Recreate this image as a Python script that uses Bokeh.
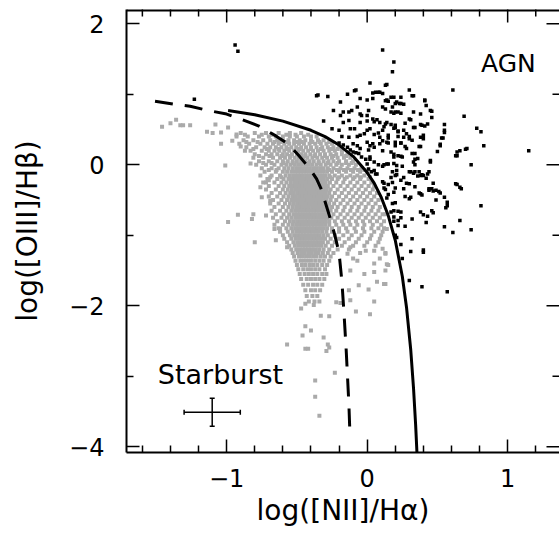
import math
from bokeh.plotting import figure
from bokeh.models import Range1d, FixedTicker, Label, Whisker, ColumnDataSource, TeeHead
from bokeh.embed import file_html
from bokeh.resources import INLINE

# ---------------- data ----------------
x_major = [-1, 0, 1]
x_minor = [-1.6, -1.4, -1.2, -0.8, -0.6, -0.4, -0.2, 0.2, 0.4, 0.6, 0.8, 1.2]
y_major = [-4, -2, 0, 2]
y_minor = [-3, -1, 1]
x_tick_text = {-1: "\u22121", 0: "0", 1: "1"}
y_tick_text = {-4: "\u22124", -2: "\u22122", 0: "0", 2: "2"}

# solid demarcation
solid_x = [-0.99, -0.8, -0.6, -0.4, -0.3, -0.2, -0.1, 0.0, 0.05, 0.1, 0.15, 0.2, 0.25, 0.28, 0.31, 0.33, 0.345, 0.355]
solid_y = [0.77, 0.71, 0.62, 0.49, 0.40, 0.28, 0.12, -0.11, -0.26, -0.46, -0.72, -1.07, -1.58, -2.02, -2.62, -3.17, -3.69, -4.11]

# dashed demarcation
dash_x = [-1.51, -1.38, -1.26, -1.13, -1.0, -0.89, -0.77, -0.65, -0.56, -0.49, -0.44, -0.40, -0.36, -0.33,
          -0.30, -0.26, -0.23, -0.20, -0.18, -0.165, -0.15, -0.14, -0.13, -0.122]
dash_y = [0.90, 0.86, 0.83, 0.77, 0.72, 0.64, 0.55, 0.41, 0.29, 0.14, 0.02, -0.08, -0.20, -0.33,
          -0.52, -0.78, -1.00, -1.25, -1.65, -2.1, -2.6, -3.0, -3.4, -3.85]

# AGN-like objects (black)
agn_pts = [
    (-0.94, 1.70), (-0.92, 1.61), (-1.23, 0.93),
    (0.11, 1.63), (0.19, 1.46), (0.18, 1.32), (0.14, 1.14), (0.61, 1.06), (0.09, 1.03), (0.30, 1.06), (0.33, 0.98),
    (0.14, 0.92), (0.15, 0.90), (0.19, 0.96), (0.21, 0.89), (0.24, 0.87), (0.26, 0.86), (0.41, 0.92), (0.42, 0.84),
    (0.45, 0.77), (0.69, 0.69), (0.11, 0.82), (0.13, 0.79), (0.18, 0.82), (0.19, 0.73), (0.22, 0.75), (0.33, 0.75),
    (0.38, 0.72), (0.46, 0.67), (0.30, 0.65), (0.14, 0.60), (0.17, 0.57), (0.20, 0.56), (0.27, 0.59), (0.38, 0.57),
    (0.41, 0.55), (0.55, 0.57), (0.78, 0.52), (0.81, 0.47), (0.11, 0.49), (0.12, 0.54), (0.19, 0.52), (0.22, 0.47),
    (0.28, 0.44), (0.33, 0.53), (0.55, 0.46), (0.09, 0.39), (0.15, 0.42), (0.26, 0.39), (0.30, 0.37), (0.38, 0.39),
    (0.40, 0.42), (0.53, 0.38), (0.83, 0.27), (0.09, 0.30), (0.14, 0.32), (0.20, 0.27), (0.24, 0.31), (0.28, 0.23),
    (0.38, 0.26), (0.52, 0.29), (0.71, 0.23), (0.64, 0.18), (1.15, 0.20), (0.11, 0.20), (0.19, 0.15), (0.22, 0.13),
    (0.25, 0.11), (0.34, 0.16), (0.36, 0.09), (0.45, 0.04), (0.64, 0.13), (0.74, 0.00), (0.12, 0.00), (0.15, 0.01),
    (0.19, 0.02), (0.21, -0.01), (0.33, 0.04), (0.34, 0.00), (0.30, -0.10), (0.33, -0.12), (0.38, -0.15), (0.43, -0.13),
    (0.20, -0.15), (0.17, -0.18), (0.24, -0.22), (0.28, -0.26), (0.47, -0.26), (0.63, -0.27), (0.66, -0.32),
    (0.12, -0.26), (0.15, -0.28), (0.44, -0.36), (0.47, -0.37), (0.51, -0.38), (0.55, -0.46), (0.26, -0.34),
    (0.31, -0.46), (0.38, -0.41), (0.19, -0.39), (0.21, -0.14), (0.26, -0.18), (0.36, -0.16), (0.39, -0.14),
    (0.42, -0.19), (0.44, -0.10), (0.11, -0.24), (0.18, -0.25), (0.20, -0.33), (0.30, -0.27), (0.34, -0.31),
    (0.64, -0.28), (0.67, -0.34), (0.44, -0.34), (0.46, -0.34), (0.49, -0.36), (0.52, -0.40), (0.12, -0.33),
    (0.13, -0.35), (0.15, -0.42), (0.14, -0.47), (0.27, -0.45), (0.30, -0.48), (0.37, -0.40), (0.39, -0.43),
    (0.49, -0.50), (0.57, -0.53), (0.57, -0.58), (0.56, -0.61), (0.81, -0.58), (0.18, -0.55), (0.20, -0.54),
    (0.19, -0.65), (0.22, -0.66), (0.24, -0.67), (0.17, -0.67), (0.38, -0.67), (0.40, -0.71), (0.43, -0.73),
    (0.46, -0.65), (0.47, -0.68), (0.19, -0.74), (0.19, -0.80), (0.22, -0.79), (0.24, -0.75), (0.32, -0.77),
    (0.42, -0.82), (0.66, -0.79), (0.74, -0.92), (0.22, -0.86), (0.27, -0.87), (0.55, -0.88), (0.61, -0.96),
    (0.20, -1.00), (0.21, -1.03), (0.32, -1.05), (0.24, -1.13), (0.31, -1.23), (0.40, -1.21), (0.40, -1.24),
    (0.25, -1.33), (0.30, -1.64), (0.39, -1.73), (0.57, -1.80),
    (0.02, 1.16), (0.04, 1.02), (0.06, 1.03), (0.08, 1.03), (0.11, 1.01), (-0.05, 0.94), (0.00, 0.92), (0.04, 0.94),
    (0.13, 0.91), (0.17, 0.96), (0.24, 0.96), (0.32, 0.98), (0.23, 0.87), (0.20, 0.87), (-0.05, 0.72), (0.01, 0.77),
    (0.00, 0.70), (0.17, 0.75), (0.20, 0.75), (0.24, 0.73), (0.04, 0.65), (0.05, 0.61), (0.07, 0.64), (-0.05, 0.60),
    (0.00, 0.62), (0.09, 0.60), (0.13, 0.58), (0.31, 0.64), (0.39, 0.56), (0.43, 0.58), (0.20, 0.53), (0.22, 0.48),
    (0.00, 0.49), (0.02, 0.51), (0.26, 0.49), (0.34, 0.53), (0.55, 0.49), (-0.05, 0.42), (-0.02, 0.44), (0.05, 0.43),
    (0.08, 0.45), (0.15, 0.38), (0.22, 0.40), (0.30, 0.40), (0.32, 0.35), (0.40, 0.37), (0.00, 0.32), (0.02, 0.27),
    (0.04, 0.30), (0.11, 0.34), (0.15, 0.31), (0.20, 0.32), (0.24, 0.31), (0.27, 0.26), (0.52, 0.27), (0.63, 0.13),
    (0.50, 0.19), (0.37, 0.26), (-0.05, 0.23), (0.01, 0.21), (0.05, 0.25), (0.17, 0.18), (0.32, 0.16), (0.34, 0.08),
    (0.45, 0.06), (0.19, 0.11), (0.24, 0.12), (-0.01, 0.08), (0.02, 0.11), (0.08, 0.00), (0.11, -0.02), (0.14, 0.01),
    (0.25, -0.02), (0.31, -0.10), (0.34, -0.10), (0.37, -0.10), (0.40, -0.15), (0.18, -0.10), (0.21, -0.08),
    (0.05, -0.08), (0.06, -0.13), (-0.35, 0.99), (-0.28, 0.97), (-0.19, 0.89), (-0.14, 1.00), (-0.08, 1.06),
    (-0.31, 0.62), (-0.24, 0.77), (-0.19, 0.70), (-0.25, 0.51), (-0.20, 0.49), (-0.17, 0.75), (-0.13, 0.75),
    (-0.11, 0.77), (-0.17, 0.60), (-0.13, 0.63), (-0.07, 0.82), (-0.04, 0.70), (-0.12, 0.51), (-0.09, 0.51),
    (-0.18, 0.40), (-0.13, 0.39), (-0.07, 0.40), (-0.20, 0.31), (-0.17, 0.28), (-0.14, 0.25), (-0.10, 0.30),
    (-0.07, 0.27), (-0.12, 0.21), (-0.10, 0.18), (-0.08, 0.17), (-0.06, 0.16), (-0.04, 0.11), (0.02, 0.08),
    (0.05, 0.04), (0.00, 0.01), (0.01, -0.06), (0.03, -0.10), (0.07, -0.13), (0.70, 0.22), (0.66, 0.20),
    (0.54, 0.38), (0.41, 0.91), (0.46, 0.76), (0.13, 1.13), (-0.09, 1.05), (-0.36, 0.98),
]

# star-forming objects (grey): rows of (y, [x ...]) read across the cloud
sf_rows = [
    (0.45, [-0.90, -0.80, -0.72, -0.63, -0.55, -0.47]),
    (0.425, [-0.87, -0.75, -0.68, -0.575, -0.51, -0.42]),
    (0.40, [-0.93, -0.85, -0.77, -0.70, -0.65, -0.60, -0.55, -0.50, -0.45, -0.40, -0.36]),
    (0.35, [-0.88, -0.81, -0.74, -0.69, -0.64, -0.60, -0.56, -0.52, -0.48, -0.44, -0.40, -0.35, -0.31]),
    (0.325, [-0.86, -0.78, -0.66, -0.615, -0.57, -0.50, -0.465, -0.39, -0.34, -0.27]),
    (0.30, [-0.91, -0.84, -0.76, -0.71, -0.67, -0.63, -0.59, -0.555, -0.52, -0.485, -0.45, -0.41, -0.37, -0.33, -0.29, -0.25]),
    (0.25, [-0.86, -0.79, -0.73, -0.69, -0.65, -0.61, -0.575, -0.54, -0.505, -0.47, -0.435, -0.40, -0.36, -0.32, -0.28, -0.24, -0.20]),
    (0.225, [-0.81, -0.715, -0.63, -0.565, -0.48, -0.40, -0.33, -0.255, -0.21]),
    (0.20, [-0.83, -0.75, -0.70, -0.66, -0.625, -0.59, -0.555, -0.52, -0.49, -0.455, -0.42, -0.385, -0.35, -0.31, -0.27, -0.23, -0.18]),
    (0.15, [-0.80, -0.72, -0.68, -0.64, -0.60, -0.57, -0.535, -0.50, -0.47, -0.44, -0.405, -0.37, -0.335, -0.30, -0.26, -0.22, -0.18, -0.14]),
    (0.125, [-0.77, -0.695, -0.61, -0.545, -0.44, -0.375, -0.30, -0.24, -0.15]),
    (0.10, [-0.81, -0.74, -0.67, -0.62, -0.585, -0.55, -0.515, -0.485, -0.455, -0.425, -0.39, -0.355, -0.32, -0.285, -0.25, -0.21, -0.165, -0.12]),
    (0.05, [-0.77, -0.70, -0.64, -0.60, -0.565, -0.53, -0.50, -0.47, -0.44, -0.41, -0.38, -0.345, -0.31, -0.275, -0.24, -0.20, -0.15, -0.10]),
    (0.025, [-0.74, -0.68, -0.595, -0.53, -0.425, -0.345, -0.28, -0.21, -0.15, -0.11]),
    (0.00, [-0.79, -0.72, -0.66, -0.61, -0.575, -0.545, -0.515, -0.49, -0.465, -0.44, -0.415, -0.39, -0.36, -0.33, -0.295, -0.26, -0.22, -0.18, -0.13, -0.08]),
    (-0.05, [-0.75, -0.68, -0.63, -0.59, -0.56, -0.53, -0.505, -0.48, -0.458, -0.435, -0.41, -0.385, -0.36, -0.335, -0.31, -0.28, -0.24, -0.19, -0.14, -0.09, -0.04]),
    (-0.075, [-0.70, -0.645, -0.27, -0.215, -0.165, -0.115, -0.065, -0.02]),
    (-0.10, [-0.73, -0.65, -0.60, -0.57, -0.54, -0.515, -0.492, -0.47, -0.448, -0.425, -0.402, -0.38, -0.357, -0.335, -0.31, -0.285, -0.25, -0.20, -0.15, -0.10, -0.05, 0.00]),
    (-0.15, [-0.76, -0.68, -0.62, -0.58, -0.55, -0.525, -0.503, -0.48, -0.458, -0.435, -0.413, -0.39, -0.368, -0.345, -0.322, -0.30, -0.27, -0.23, -0.18, -0.12, -0.07, -0.02]),
    (-0.175, [-0.69, -0.61, -0.26, -0.20, -0.145, -0.09, -0.045, 0.02]),
    (-0.20, [-0.71, -0.64, -0.595, -0.56, -0.535, -0.512, -0.49, -0.468, -0.445, -0.423, -0.40, -0.378, -0.355, -0.333, -0.31, -0.285, -0.25, -0.21, -0.16, -0.10, -0.05, 0.01]),
    (-0.25, [-0.74, -0.66, -0.61, -0.575, -0.545, -0.52, -0.498, -0.475, -0.453, -0.43, -0.408, -0.385, -0.363, -0.34, -0.318, -0.295, -0.265, -0.22, -0.17, -0.12, -0.07, -0.02, 0.03]),
    (-0.30, [-0.70, -0.63, -0.59, -0.555, -0.53, -0.507, -0.485, -0.462, -0.44, -0.417, -0.395, -0.372, -0.35, -0.327, -0.305, -0.28, -0.24, -0.19, -0.14, -0.09, -0.04, 0.01, 0.05]),
    (-0.35, [-0.72, -0.65, -0.60, -0.565, -0.537, -0.513, -0.49, -0.467, -0.445, -0.422, -0.40, -0.377, -0.355, -0.332, -0.31, -0.287, -0.26, -0.21, -0.16, -0.11, -0.06, -0.01, 0.04]),
    (-0.40, [-0.68, -0.62, -0.58, -0.548, -0.522, -0.498, -0.475, -0.452, -0.43, -0.407, -0.385, -0.362, -0.34, -0.317, -0.295, -0.27, -0.23, -0.18, -0.13, -0.08, -0.03, 0.02, 0.07]),
    (-0.45, [-0.70, -0.64, -0.595, -0.56, -0.532, -0.508, -0.485, -0.462, -0.44, -0.417, -0.395, -0.372, -0.35, -0.327, -0.305, -0.28, -0.25, -0.20, -0.15, -0.10, -0.05, 0.00, 0.05]),
    (-0.50, [-0.67, -0.61, -0.57, -0.54, -0.515, -0.492, -0.47, -0.447, -0.425, -0.402, -0.38, -0.357, -0.335, -0.312, -0.29, -0.26, -0.22, -0.17, -0.12, -0.07, -0.02, 0.03, 0.08]),
    (-0.55, [-0.69, -0.63, -0.585, -0.55, -0.522, -0.498, -0.475, -0.452, -0.43, -0.407, -0.385, -0.362, -0.34, -0.317, -0.295, -0.27, -0.235, -0.19, -0.14, -0.09, -0.04, 0.01, 0.06]),
    (-0.60, [-0.66, -0.60, -0.56, -0.53, -0.505, -0.482, -0.46, -0.437, -0.415, -0.392, -0.37, -0.347, -0.325, -0.302, -0.28, -0.25, -0.21, -0.16, -0.11, -0.06, -0.01, 0.04, 0.09]),
    (-0.65, [-0.68, -0.62, -0.575, -0.54, -0.513, -0.49, -0.467, -0.445, -0.422, -0.40, -0.377, -0.355, -0.332, -0.31, -0.287, -0.26, -0.22, -0.17, -0.12, -0.07, -0.02, 0.03, 0.08]),
    (-0.70, [-0.65, -0.595, -0.555, -0.525, -0.50, -0.477, -0.455, -0.432, -0.41, -0.387, -0.365, -0.342, -0.32, -0.297, -0.275, -0.24, -0.19, -0.14, -0.09, -0.04, 0.01, 0.06, 0.11]),
    (-0.75, [-0.67, -0.61, -0.57, -0.54, -0.512, -0.488, -0.465, -0.442, -0.42, -0.397, -0.375, -0.352, -0.33, -0.307, -0.285, -0.255, -0.21, -0.16, -0.11, -0.06, -0.01, 0.04, 0.09]),
    (-0.80, [-0.64, -0.585, -0.55, -0.522, -0.498, -0.475, -0.452, -0.43, -0.407, -0.385, -0.362, -0.34, -0.317, -0.295, -0.27, -0.23, -0.18, -0.13, -0.08, -0.03, 0.02, 0.07, 0.12]),
    (-0.85, [-0.66, -0.60, -0.56, -0.53, -0.505, -0.482, -0.46, -0.437, -0.415, -0.392, -0.37, -0.347, -0.325, -0.30, -0.27, -0.22, -0.17, -0.12, -0.07, -0.02, 0.04, 0.10]),
    (-0.90, [-0.63, -0.575, -0.54, -0.513, -0.49, -0.467, -0.445, -0.422, -0.40, -0.377, -0.355, -0.332, -0.31, -0.285, -0.25, -0.20, -0.15, -0.09, -0.03, 0.03, 0.08, 0.12]),
    (-0.95, [-0.62, -0.565, -0.53, -0.503, -0.48, -0.457, -0.435, -0.412, -0.39, -0.367, -0.345, -0.32, -0.29, -0.25, -0.20, -0.14, -0.08, -0.02, 0.05, 0.11]),
    (-1.00, [-0.60, -0.55, -0.52, -0.495, -0.472, -0.45, -0.427, -0.405, -0.382, -0.36, -0.337, -0.31, -0.28, -0.23, -0.17, -0.11, -0.04, 0.03, 0.10]),
    (-1.05, [-0.59, -0.54, -0.51, -0.485, -0.462, -0.44, -0.417, -0.395, -0.372, -0.35, -0.325, -0.30, -0.26, -0.20, -0.13, -0.06, 0.02, 0.09]),
    (-1.10, [-0.57, -0.525, -0.498, -0.475, -0.452, -0.43, -0.407, -0.385, -0.362, -0.34, -0.315, -0.28, -0.23, -0.16, -0.08, 0.00, 0.08]),
    (-1.15, [-0.555, -0.515, -0.49, -0.465, -0.442, -0.42, -0.397, -0.375, -0.35, -0.325, -0.295, -0.25, -0.18, -0.10, -0.02, 0.06]),
    (-1.20, [-0.54, -0.505, -0.48, -0.457, -0.435, -0.412, -0.39, -0.365, -0.34, -0.31, -0.27, -0.21, -0.13]),
    (-1.25, [-0.53, -0.495, -0.47, -0.445, -0.42, -0.395, -0.37, -0.345, -0.315, -0.28, -0.24]),
    (-1.30, [-0.52, -0.485, -0.46, -0.435, -0.41, -0.385, -0.36, -0.33, -0.30, -0.26]),
    (-1.36, [-0.51, -0.475, -0.45, -0.425, -0.40, -0.37, -0.34, -0.31, -0.27]),
    (-1.42, [-0.50, -0.465, -0.44, -0.41, -0.385, -0.355, -0.32, -0.285]),
    (-1.48, [-0.49, -0.455, -0.425, -0.40, -0.37, -0.34, -0.30]),
    (-1.55, [-0.48, -0.445, -0.415, -0.385, -0.355, -0.32, -0.29]),
    (-1.62, [-0.47, -0.43, -0.40, -0.37, -0.34, -0.305]),
    (-1.70, [-0.455, -0.42, -0.385, -0.355, -0.32]),
    (-1.78, [-0.44, -0.40, -0.37, -0.335]),
    (-1.86, [-0.43, -0.39, -0.355]),
    (-1.94, [-0.415, -0.375, -0.34]),
]

sf_outliers = [
    (-1.46, 0.54), (-1.40, 0.59), (-1.36, 0.64), (-1.33, 0.56), (-1.31, 0.56), (-1.26, 0.56), (-1.14, 0.47),
    (-1.10, 0.45), (-1.08, 0.57), (-1.04, 0.46), (-0.99, 0.53), (-1.04, 0.30), (-1.01, -0.01), (-0.83, 0.02),
    (-0.76, -0.32), (-0.72, -0.25), (-0.70, -0.22), (-0.75, -0.46), (-0.69, -0.51), (-0.81, -0.70), (-0.82, -0.77),
    (-0.72, -0.72), (-0.92, -0.71), (-0.99, -0.81), (-0.66, -0.91), (-0.62, -0.91), (-0.80, -1.10), (-0.65, -1.07),
    (-0.57, -1.17), (-0.47, -2.04), (-0.44, -1.97), (-0.38, -1.99), (-0.33, -2.14), (-0.27, -2.15), (-0.44, -2.29),
    (-0.40, -2.35), (-0.46, -2.42), (-0.31, -2.45), (-0.57, -2.55), (-0.44, -2.61), (-0.42, -2.61), (-0.28, -2.55),
    (-0.27, -2.59), (-0.29, -2.64), (-0.23, -2.95), (-0.37, -3.06), (-0.37, -3.29), (-0.34, -3.56), (-0.08, -2.08),
    (0.02, -2.12), (0.05, -1.94), (-0.12, -1.92), (-0.19, -1.96), (-0.22, -1.95), (-0.13, -1.78), (-0.06, -1.71),
    (0.01, -1.77), (0.07, -1.66), (0.12, -1.69), (-0.02, -1.55), (0.05, -1.52), (0.14, -1.41), (0.05, -1.40),
    (0.09, -1.33), (0.13, -1.26), (-0.12, -1.50), (-0.10, -1.33), (-0.07, -1.36), (-0.14, -1.26), (-0.05, -1.25),
    (-0.01, -1.22), (0.05, -1.22), (-0.12, -1.17), (0.13, -0.70), (0.14, -0.91), (0.11, -1.19), (0.13, -1.25),
    (0.15, -1.42), (0.13, -1.50), (0.13, -1.69), (-0.96, 0.34), (-0.93, 0.43), (-0.90, 0.26), (-0.87, 0.20),
]

# typical error bar
err_x, err_y = -1.103, -3.51
err_dx, err_dy = 0.20, 0.20

# ---------------- figure ----------------
X0, X1 = -1.713, 1.369
Y0, Y1 = -4.081, 2.203

sf_x = [x for (y, xs) in sf_rows for x in xs] + [q[0] for q in sf_outliers]
sf_y = [y for (y, xs) in sf_rows for x in xs] + [q[1] for q in sf_outliers]
agn_x = [q[0] for q in agn_pts]
agn_y = [q[1] for q in agn_pts]

FONT = "DejaVu Sans"

p = figure(width=559, height=533, x_range=Range1d(X0, X1), y_range=Range1d(Y0, Y1),
           output_backend="svg", toolbar_location=None,
           min_border_left=126, min_border_right=0, min_border_top=9, min_border_bottom=81)
p.outline_line_color = None
p.grid.visible = False
p.background_fill_color = "white"
p.border_fill_color = "white"

xt = FixedTicker(ticks=x_major, minor_ticks=x_minor)
yt = FixedTicker(ticks=y_major, minor_ticks=y_minor)


def style(ax, ticker):
    ax.ticker = ticker
    ax.major_tick_in = 13
    ax.major_tick_out = 0
    ax.minor_tick_in = 7
    ax.minor_tick_out = 0
    ax.major_tick_line_width = 1.5
    ax.minor_tick_line_width = 1.5
    ax.major_tick_line_color = "black"
    ax.minor_tick_line_color = "black"
    ax.axis_line_width = 2
    ax.axis_line_color = "black"
    ax.major_label_text_font = FONT
    ax.major_label_text_font_size = "24px"
    ax.major_label_text_color = "black"
    ax.axis_label_text_font = FONT
    ax.axis_label_text_font_size = "28px"
    ax.axis_label_text_font_style = "normal"
    ax.axis_label_text_color = "black"


xa = p.xaxis[0]
style(xa, xt)
xa.major_label_overrides = x_tick_text
xa.major_label_standoff = 16
xa.axis_label = "log([NII]/H\u03b1)"
xa.axis_label_standoff = 4

ya = p.yaxis[0]
style(ya, yt)
ya.major_label_overrides = y_tick_text
ya.major_label_standoff = 22
ya.axis_label = "log([OIII]/H\u03b2)"
ya.axis_label_standoff = 22

# top frame edge and inward ticks on the top and right sides (clipped to the frame)
p.segment(x0=[X0], y0=[Y1], x1=[X1], y1=[Y1], line_width=4, line_color="black")
p.scatter(x_major, [Y1] * len(x_major), marker="dash", size=26, angle=math.pi / 2,
          line_color="black", line_width=1.5)
p.scatter(x_minor, [Y1] * len(x_minor), marker="dash", size=14, angle=math.pi / 2,
          line_color="black", line_width=1.5)
p.scatter([X1] * len(y_major), y_major, marker="dash", size=26, line_color="black", line_width=1.5)
p.scatter([X1] * len(y_minor), y_minor, marker="dash", size=14, line_color="black", line_width=1.5)

p.scatter(sf_x, sf_y, marker="square", size=4, fill_color="#aaaaaa", line_color=None)
p.scatter(agn_x, agn_y, marker="square", size=3.5, fill_color="black", line_color=None)

p.line(solid_x, solid_y, line_width=3, line_color="black")
p.line(dash_x, dash_y, line_width=3, line_color="black", line_dash="18 12")

src_h = ColumnDataSource(dict(base=[err_y], lower=[err_x - err_dx], upper=[err_x + err_dx]))
src_v = ColumnDataSource(dict(base=[err_x], lower=[err_y - err_dy], upper=[err_y + err_dy]))
for src, dim in ((src_h, "width"), (src_v, "height")):
    w = Whisker(source=src, base="base", lower="lower", upper="upper", dimension=dim,
                line_width=1.5, line_color="black",
                lower_head=TeeHead(size=5, line_width=1.5, line_color="black"),
                upper_head=TeeHead(size=5, line_width=1.5, line_color="black"))
    p.add_layout(w)

p.add_layout(Label(x=0.81, y=1.44, text="AGN", text_font=FONT, text_font_size="25px",
                   text_color="black", text_baseline="alphabetic"))
p.add_layout(Label(x=-1.49, y=-2.97, text="Starburst", text_font=FONT, text_font_size="27px",
                   text_color="black", text_baseline="alphabetic"))

open("out.html", "w").write(file_html(p, INLINE))
